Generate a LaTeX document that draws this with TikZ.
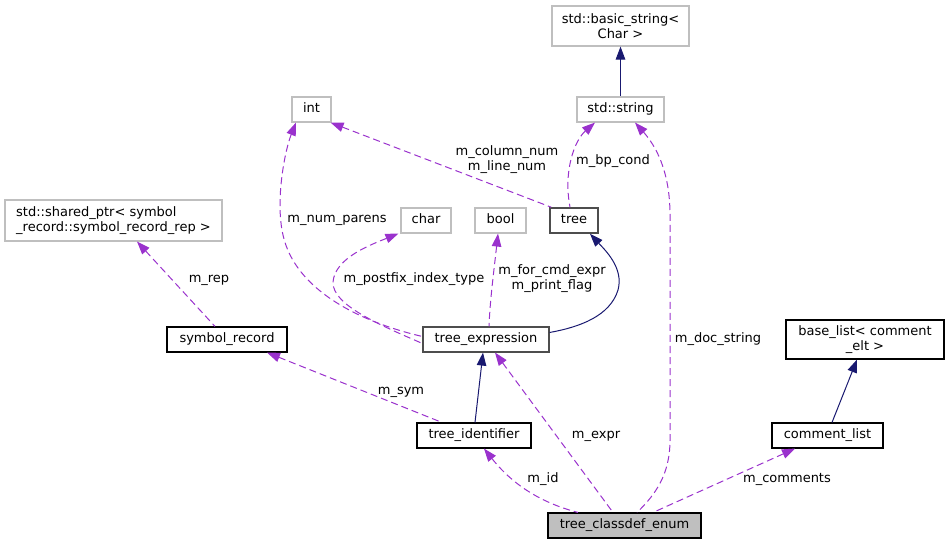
\documentclass[tikz,border=0pt]{standalone}
\usepackage{fontspec}
\newfontfamily\dv{DejaVu Sans}
\usetikzlibrary{arrows.meta}
\definecolor{purp}{HTML}{9A32CD}
\definecolor{navy}{HTML}{191970}
\definecolor{extgray}{HTML}{BFBFBF}
\definecolor{treegray}{HTML}{4D4D4D}
\tikzset{
  x=1pt, y=-1pt,
  txt/.style={font={\dv\fontsize{13}{15}\selectfont}},
  box/.style={txt, draw=black, line width=1.1pt, fill=white, inner sep=0pt, minimum height=25pt, text height=9.5pt, text depth=3pt},
  ext/.style={box, draw=extgray},
  box2/.style={txt, draw=black, line width=1.1pt, fill=white, inner sep=0pt, align=center},
  ext2/.style={box2, draw=extgray},
  dep/.style={draw=purp, line width=1pt, dash pattern=on 7pt off 4pt, {Triangle[length=13pt,width=9.5pt,fill=purp]}-},
  inh/.style={draw=navy, line width=1pt, {Triangle[length=13pt,width=9.5pt,fill=navy]}-},
  lbl/.style={txt, inner sep=0pt, text height=9.5pt, text depth=3pt},
  lbl2/.style={txt, inner sep=0pt, align=center},
}
\begin{document}
\begin{tikzpicture}
\useasboundingbox (0,0) rectangle (949,544);
% nodes
\node[ext2, minimum width=137pt, minimum height=40pt] (bstr) at (620.5,26) {std::basic\_string<\\Char >};
\node[ext, minimum width=87pt] (str) at (620.5,109.5) {std::string};
\node[ext, minimum width=39pt] (int) at (311.5,109.5) {int};
\node[ext, minimum width=50pt] (char) at (426,220.5) {char};
\node[ext, minimum width=51pt] (bool) at (500.5,220.5) {bool};
\node[box, draw=treegray, line width=1.6pt, minimum width=48pt] (tree) at (574,220.5) {tree};
\node[ext2, align=left, minimum width=217pt, minimum height=41pt] (sp) at (113.5,220.5) {std::shared\_ptr< symbol\\\_record::symbol\_record\_rep >};
\node[box, minimum width=120pt] (symrec) at (227,339.5) {symbol\_record};
\node[box, draw=treegray, minimum width=126pt] (texpr) at (486,339.5) {tree\_expression};
\node[box2, minimum width=158pt, minimum height=39pt] (bl) at (865,339.5) {base\_list< comment\\\_elt >};
\node[box, minimum width=114pt] (tid) at (474,435.5) {tree\_identifier};
\node[box, minimum width=111pt] (cl) at (827.5,435.5) {comment\_list};
\node[box, fill=extgray, minimum width=153pt] (enum) at (624.5,525.5) {tree\_classdef\_enum};

% inheritance edges
\draw[inh] (bstr.south) -- (str.north);
\draw[inh] ([xshift=16pt]tree.south) .. controls (605,250) and (624,268) .. (618,290) .. controls (610,316) and (580,327) .. ([yshift=7pt]texpr.east);
\draw[inh] ([xshift=-3pt]texpr.south) -- ([xshift=1pt]tid.north);
\draw[inh] ([xshift=-8pt]bl.south) -- ([xshift=4.5pt]cl.north);

% dependency edges
\draw[dep] ([xshift=-1pt]int.south east) -- ([xshift=2pt]tree.north west);
\draw[dep] ([xshift=-25.5pt]str.south) .. controls (575,140) and (563,170) .. ([xshift=-4pt]tree.north);
\draw[dep] ([xshift=14.5pt]str.south) .. controls (655,145) and (670,170) .. (670,215) -- (670,440) .. controls (670,475) and (655,495) .. ([xshift=12.5pt]enum.north);
\draw[dep] ([xshift=-15.5pt]int.south) .. controls (285,150) and (275,200) .. (283,235) .. controls (295,290) and (360,322) .. ([yshift=3pt]texpr.west);
\draw[dep] ([xshift=-2pt]char.south west) .. controls (370,245) and (335,258) .. (333,282) .. controls (332,305) and (380,325) .. ([yshift=-4pt]texpr.west);
\draw[dep] ([xshift=-2.5pt]bool.south) .. controls (494,270) and (490,300) .. ([xshift=3pt]texpr.north);
\draw[dep] ([xshift=23.5pt]sp.south) -- ([xshift=-12pt]symrec.north);
\draw[dep] ([xshift=40pt]symrec.south) -- ([xshift=-32pt]tid.north);
\draw[dep] ([xshift=9pt]texpr.south) -- ([xshift=-11.5pt]enum.north);
\draw[dep] ([xshift=10pt]tid.south) .. controls (505,475) and (530,500) .. ([xshift=-46.5pt]enum.north);
\draw[dep] ([xshift=-32.5pt]cl.south) -- ([xshift=28.5pt]enum.north);

% labels
\node[lbl2] (l1) at (507,160) {m\_column\_num\\m\_line\_num};
\node[lbl] (l2) at (613,161) {m\_bp\_cond};
\node[lbl] (l3) at (718,339) {m\_doc\_string};
\node[lbl] (l4) at (337,219) {m\_num\_parens};
\node[lbl] (l5) at (414,279) {m\_postfix\_index\_type};
\node[lbl2] (l6) at (552,279) {m\_for\_cmd\_expr\\m\_print\_flag};
\node[lbl] (l7) at (209,279) {m\_rep};
\node[lbl] (l8) at (401,391) {m\_sym};
\node[lbl] (l9) at (596,435) {m\_expr};
\node[lbl] (l10) at (543,479) {m\_id};
\node[lbl] (l11) at (787,479) {m\_comments};
\end{tikzpicture}
\end{document}
